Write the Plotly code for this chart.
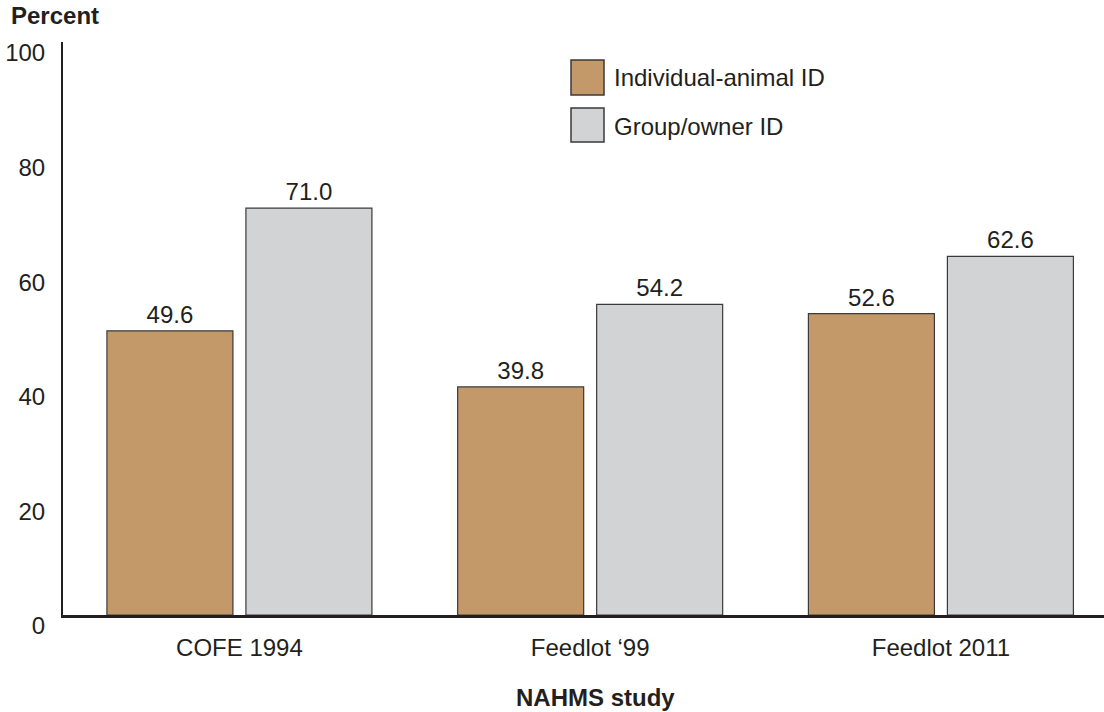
import plotly.graph_objects as go

# NAHMS feedlot studies: percent of operations by identification type
studies = ["COFE 1994", "Feedlot \u201899", "Feedlot 2011"]
individual_id = [49.6, 39.8, 52.6]
group_owner_id = [71.0, 54.2, 62.6]
series_names = ["Individual-animal ID", "Group/owner ID"]
series_colors = ["#C4996A", "#D1D3D4"]
y_ticks = [0, 20, 40, 60, 80, 100]

FONT = "Liberation Sans, Arial, sans-serif"
INK = "#231F20"

W, H = 1104, 712
ML, MR, MT, MB = 63, 0, 42, 97
PW, PH = W - ML - MR, H - MT - MB


def px_x(x):
    return (x - ML) / PW


def px_y(y):
    return (H - MB - y) / PH


fig = go.Figure()
for name, vals, col in zip(series_names, [individual_id, group_owner_id], series_colors):
    fig.add_trace(go.Bar(
        x=studies, y=vals, name=name,
        marker=dict(color=col, line=dict(color="#3a3a3a", width=1.2)),
        texttemplate="%{y:.1f}", textposition="outside",
        textfont=dict(family=FONT, size=24, color=INK),
        cliponaxis=False, showlegend=False,
    ))

# legend drawn as swatches + labels
shapes = []
annotations = []
swatch_rows = [(60, 95, 78), (108, 142, 126)]
for (top, bot, mid), name, col in zip(swatch_rows, series_names, series_colors):
    shapes.append(dict(type="rect", xref="paper", yref="paper",
                       x0=px_x(571), x1=px_x(604), y0=px_y(bot), y1=px_y(top),
                       fillcolor=col, line=dict(color="#3a3a3a", width=1.5)))
    annotations.append(dict(text=name, xref="paper", yref="paper",
                            x=px_x(612), y=px_y(mid), xanchor="left", yanchor="middle",
                            showarrow=False, font=dict(family=FONT, size=24, color=INK)))

annotations.append(dict(text="<b>Percent</b>", xref="paper", yref="paper",
                        x=px_x(9), y=px_y(15), xanchor="left", yanchor="middle",
                        showarrow=False, font=dict(family=FONT, size=24, color=INK)))
annotations.append(dict(text="<b>NAHMS study</b>", xref="paper", yref="paper",
                        x=px_x(595), y=px_y(697), xanchor="center", yanchor="middle",
                        showarrow=False, font=dict(family=FONT, size=24, color=INK)))

fig.update_layout(
    width=W, height=H,
    margin=dict(l=ML, r=MR, t=MT, b=MB, pad=0),
    paper_bgcolor="white", plot_bgcolor="white",
    barmode="group", bargap=0.2074, bargroupgap=0.0935,
    shapes=shapes, annotations=annotations,
    font=dict(family=FONT, size=24, color=INK),
)
fig.update_xaxes(
    range=[-0.503, 2.465], showline=True, linewidth=2.5, linecolor=INK,
    showgrid=False, ticks="", zeroline=False,
    tickfont=dict(family=FONT, size=24, color=INK), ticklabelstandoff=9,
)
fig.update_yaxes(
    range=[0, 100], tickvals=y_ticks, showline=True, linewidth=2, linecolor=INK,
    showgrid=False, ticks="", zeroline=False,
    tickfont=dict(family=FONT, size=24, color=INK),
    ticklabelstandoff=11, ticklabelshift=11,
)

fig.write_html("out.html")
